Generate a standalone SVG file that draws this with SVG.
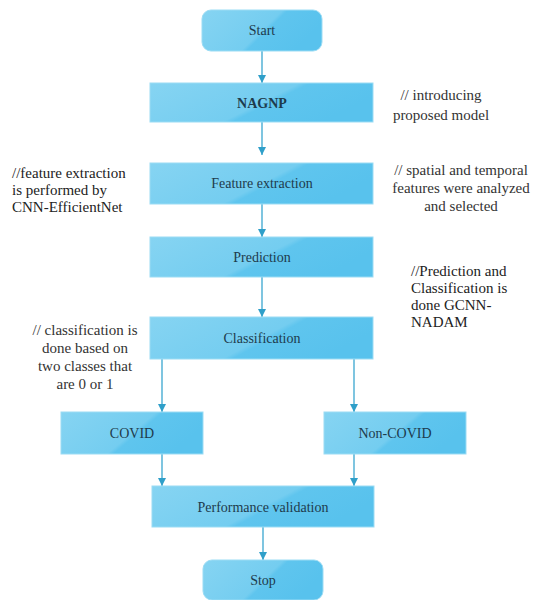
<svg xmlns="http://www.w3.org/2000/svg" width="544" height="600" viewBox="0 0 544 600">
<defs>
<linearGradient id="g" x1="0" y1="0" x2="1" y2="0.35">
<stop offset="0" stop-color="#86d4f2"/>
<stop offset="0.6" stop-color="#74cdf0"/>
<stop offset="0.64" stop-color="#5fc5ee"/>
<stop offset="1" stop-color="#58c2ed"/>
</linearGradient>
<marker id="ah" viewBox="0 0 10 10" refX="10" refY="5" markerWidth="8" markerHeight="8" markerUnits="userSpaceOnUse" orient="auto">
<path d="M0,0 L10,5 L0,10 z" fill="#2f9fc9"/>
</marker>
<style>
.box{fill:url(#g);stroke:#9bdcf4;stroke-width:1}
.lbl{font-family:"Times New Roman","Liberation Serif",serif;font-size:14px;fill:#1e3b4c;text-anchor:middle}
.note{font-family:"Times New Roman","Liberation Serif",serif;font-size:15px;fill:#333}
.dk{fill:#222}
.c{fill:none;stroke:#3aa6d0;stroke-width:1.3}
</style>
</defs>
<rect width="544" height="600" fill="#fff"/>
<g id="connectors">
<line class="c" x1="262" y1="51" x2="262" y2="83" marker-end="url(#ah)"/>
<line class="c" x1="262" y1="122" x2="262" y2="155" marker-end="url(#ah)"/>
<line class="c" x1="262" y1="204" x2="262" y2="237" marker-end="url(#ah)"/>
<line class="c" x1="262" y1="277" x2="262" y2="317" marker-end="url(#ah)"/>
<line class="c" x1="162" y1="359" x2="162" y2="412" marker-end="url(#ah)"/>
<line class="c" x1="354" y1="359" x2="354" y2="412" marker-end="url(#ah)"/>
<line class="c" x1="162" y1="454" x2="162" y2="486" marker-end="url(#ah)"/>
<line class="c" x1="354" y1="454" x2="354" y2="486" marker-end="url(#ah)"/>
<line class="c" x1="263" y1="527" x2="263" y2="560" marker-end="url(#ah)"/>
</g>
<g id="start"><rect class="box" x="202" y="10" width="120" height="41" rx="9"/><text class="lbl" x="262" y="35">Start</text></g>
<g id="nagnp"><rect class="box" x="150" y="83" width="223" height="39"/><text class="lbl" x="262" y="108" font-size="16" font-weight="bold">NAGNP</text></g>
<g id="feature"><rect class="box" x="150" y="163" width="223" height="41"/><text class="lbl" x="262" y="188">Feature extraction</text></g>
<g id="prediction"><rect class="box" x="150" y="237" width="223" height="40"/><text class="lbl" x="262" y="262">Prediction</text></g>
<g id="classification"><rect class="box" x="150" y="317" width="223" height="42"/><text class="lbl" x="262" y="343">Classification</text></g>
<g id="covid"><rect class="box" x="61" y="412" width="142" height="42"/><text class="lbl" x="132" y="438">COVID</text></g>
<g id="noncovid"><rect class="box" x="324" y="412" width="142" height="42"/><text class="lbl" x="395" y="438">Non-COVID</text></g>
<g id="performance"><rect class="box" x="152" y="486" width="222" height="41"/><text class="lbl" x="263" y="512">Performance validation</text></g>
<g id="stop"><rect class="box" x="203" y="560" width="120" height="40" rx="9"/><text class="lbl" x="263" y="585">Stop</text></g>
<g id="notes">
<text class="note" x="441" y="100" text-anchor="middle">// introducing</text>
<text class="note" x="441" y="120" text-anchor="middle">proposed model</text>
<text class="note dk" x="12" y="178">//feature extraction</text>
<text class="note dk" x="12" y="195">is performed by</text>
<text class="note dk" x="12" y="212">CNN-EfficientNet</text>
<text class="note" x="461" y="175" text-anchor="middle">// spatial and temporal</text>
<text class="note" x="461" y="193" text-anchor="middle">features were analyzed</text>
<text class="note" x="461" y="211" text-anchor="middle">and selected</text>
<text class="note dk" x="411" y="276">//Prediction and</text>
<text class="note dk" x="411" y="293">Classification is</text>
<text class="note dk" x="411" y="310">done GCNN-</text>
<text class="note dk" x="411" y="327">NADAM</text>
<text class="note" x="85" y="335" text-anchor="middle">// classification is</text>
<text class="note" x="85" y="353" text-anchor="middle">done based on</text>
<text class="note" x="85" y="371" text-anchor="middle">two classes that</text>
<text class="note" x="85" y="389" text-anchor="middle">are 0 or 1</text>
</g>
</svg>
